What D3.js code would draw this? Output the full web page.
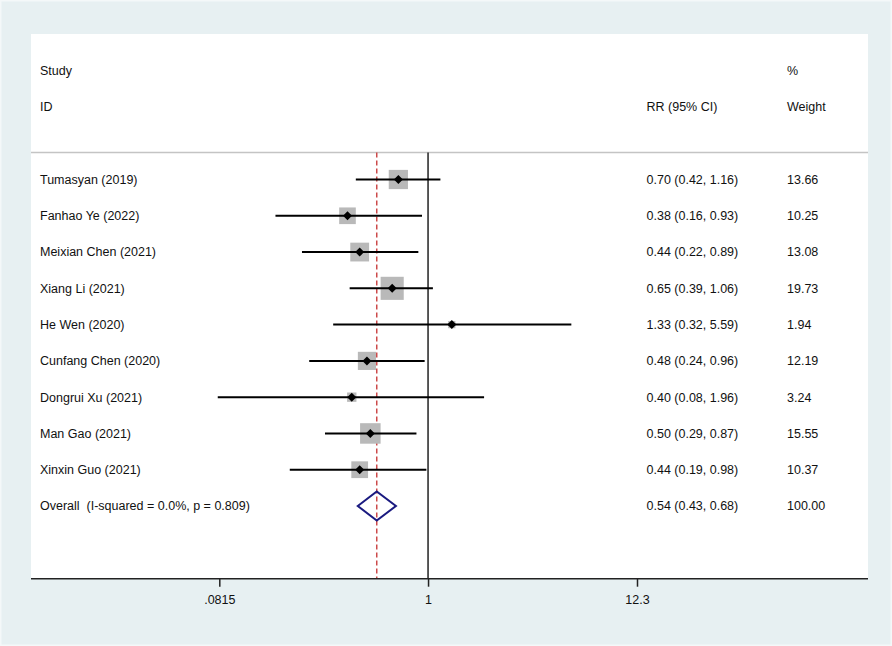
<!DOCTYPE html>
<html><head><meta charset="utf-8">
<script src="https://cdn.jsdelivr.net/npm/d3@7"></script>
<style>html,body{margin:0;padding:0;background:#e7f0f2;}svg{display:block;}</style>
</head><body>
<svg id="chart" width="892" height="646"></svg>
<script>
const studies = ["Tumasyan (2019)","Fanhao Ye (2022)","Meixian Chen (2021)","Xiang Li (2021)","He Wen (2020)","Cunfang Chen (2020)","Dongrui Xu (2021)","Man Gao (2021)","Xinxin Guo (2021)"];
const rr     = [0.70, 0.38, 0.44, 0.65, 1.33, 0.48, 0.40, 0.50, 0.44];
const lower  = [0.42, 0.16, 0.22, 0.39, 0.32, 0.24, 0.08, 0.29, 0.19];
const upper  = [1.16, 0.93, 0.89, 1.06, 5.59, 0.96, 1.96, 0.87, 0.98];
const weights= [13.66, 10.25, 13.08, 19.73, 1.94, 12.19, 3.24, 15.55, 10.37];
const overallLabel = "Overall  (I-squared = 0.0%, p = 0.809)";
const overall = {rr:0.54, lo:0.43, hi:0.68, w:100.00};
const tickValues = [0.0815, 1, 12.3];
const tickLabels = [".0815", "1", "12.3"];

const svg = d3.select("#chart");
const font = "'Liberation Sans', Arial, sans-serif";
const f2 = d3.format(".2f");

// outer light border
svg.append("rect").attr("x",0.75).attr("y",0.75).attr("width",890.5).attr("height",644.5)
  .attr("fill","#e7f0f2").attr("stroke","#f4f8f9").attr("stroke-width",1.5);
// plot area
svg.append("rect").attr("x",31).attr("y",34).attr("width",837).attr("height",545).attr("fill","#fff");

const x = d3.scaleLog().domain([0.0815, 12.3]).range([219.3, 637]);
const y = d3.scaleLinear().domain([0, 9]).range([179.5, 506]);
const yTop = 152.5, yAxis = 578.7;

// header separator
svg.append("line").attr("x1",31).attr("x2",868).attr("y1",yTop).attr("y2",yTop)
  .attr("stroke","#c4c4c4").attr("stroke-width",1.5);

// headers
const hdr = [["Study",40,71],["ID",40,107],["RR (95% CI)",646.5,107],["%",787,71],["Weight",787,107]];
svg.selectAll("text.hdr").data(hdr).enter().append("text").attr("class","hdr")
  .attr("x",d=>d[1]).attr("y",d=>d[2]).attr("dy","0.35em")
  .attr("font-family",font).attr("font-size",12.5).attr("fill","#111").text(d=>d[0]);

// reference line at 1
svg.append("line").attr("x1",x(1)).attr("x2",x(1)).attr("y1",yTop).attr("y2",yAxis)
  .attr("stroke","#222").attr("stroke-width",1.5);
// overall dashed line
svg.append("line").attr("x1",x(overall.rr)).attr("x2",x(overall.rr)).attr("y1",yTop).attr("y2",yAxis)
  .attr("stroke","#cc4a4a").attr("stroke-width",1.5).attr("stroke-dasharray","5,3");

const rows = studies.map((s,i)=>({s, rr:rr[i], lo:lower[i], hi:upper[i], w:weights[i], i}));

// boxes
svg.selectAll("rect.box").data(rows).enter().append("rect").attr("class","box")
  .attr("x",d=>x(d.rr)-5.2*Math.sqrt(d.w)/2).attr("y",d=>y(d.i)-5.2*Math.sqrt(d.w)/2)
  .attr("width",d=>5.2*Math.sqrt(d.w)).attr("height",d=>5.2*Math.sqrt(d.w))
  .attr("fill","#b9b9b9");
// CI lines
svg.selectAll("line.ci").data(rows).enter().append("line").attr("class","ci")
  .attr("x1",d=>x(d.lo)).attr("x2",d=>x(d.hi)).attr("y1",d=>y(d.i)).attr("y2",d=>y(d.i))
  .attr("stroke","#000").attr("stroke-width",2);
// point markers
svg.selectAll("path.pt").data(rows).enter().append("path").attr("class","pt")
  .attr("d",d=>{const cx=x(d.rr), cy=y(d.i), r=4.5; return `M${cx},${cy-r}L${cx+r},${cy}L${cx},${cy+r}L${cx-r},${cy}Z`;})
  .attr("fill","#000");

// labels
svg.selectAll("text.lab").data(rows).enter().append("text").attr("class","lab")
  .attr("x",40).attr("y",d=>y(d.i)).attr("dy","0.35em")
  .attr("font-family",font).attr("font-size",12.5).attr("fill","#111").text(d=>d.s);
svg.selectAll("text.est").data(rows).enter().append("text").attr("class","est")
  .attr("x",646.5).attr("y",d=>y(d.i)).attr("dy","0.35em")
  .attr("font-family",font).attr("font-size",12.5).attr("fill","#111")
  .text(d=>`${f2(d.rr)} (${f2(d.lo)}, ${f2(d.hi)})`);
svg.selectAll("text.wt").data(rows).enter().append("text").attr("class","wt")
  .attr("x",787).attr("y",d=>y(d.i)).attr("dy","0.35em")
  .attr("font-family",font).attr("font-size",12.5).attr("fill","#111").text(d=>f2(d.w));

// overall row
const yo = y(9);
svg.append("path")
  .attr("d",`M${x(overall.lo)},${yo}L${x(overall.rr)},${yo-14.5}L${x(overall.hi)},${yo}L${x(overall.rr)},${yo+14.5}Z`)
  .attr("fill","none").attr("stroke","#1a1a80").attr("stroke-width",2);
svg.append("text").attr("x",40).attr("y",yo).attr("dy","0.35em")
  .attr("font-family",font).attr("font-size",12.5).attr("fill","#111").attr("xml:space","preserve")
  .style("white-space","pre").text(overallLabel);
svg.append("text").attr("x",646.5).attr("y",yo).attr("dy","0.35em")
  .attr("font-family",font).attr("font-size",12.5).attr("fill","#111")
  .text(`${f2(overall.rr)} (${f2(overall.lo)}, ${f2(overall.hi)})`);
svg.append("text").attr("x",787).attr("y",yo).attr("dy","0.35em")
  .attr("font-family",font).attr("font-size",12.5).attr("fill","#111").text(f2(overall.w));

// x axis
const axis = d3.axisBottom(x).tickValues(tickValues).tickFormat((d,i)=>tickLabels[i]).tickSize(8).tickPadding(8);
const ag = svg.append("g").attr("transform",`translate(0,${yAxis})`).call(axis);
ag.select(".domain").remove();
ag.selectAll(".tick line").attr("stroke","#222").attr("stroke-width",1.5);
ag.selectAll(".tick text").attr("font-family",font).attr("font-size",12.5).attr("fill","#111");
svg.append("line").attr("x1",31).attr("x2",868).attr("y1",yAxis).attr("y2",yAxis)
  .attr("stroke","#222").attr("stroke-width",1.5);
</script>
</body></html>
